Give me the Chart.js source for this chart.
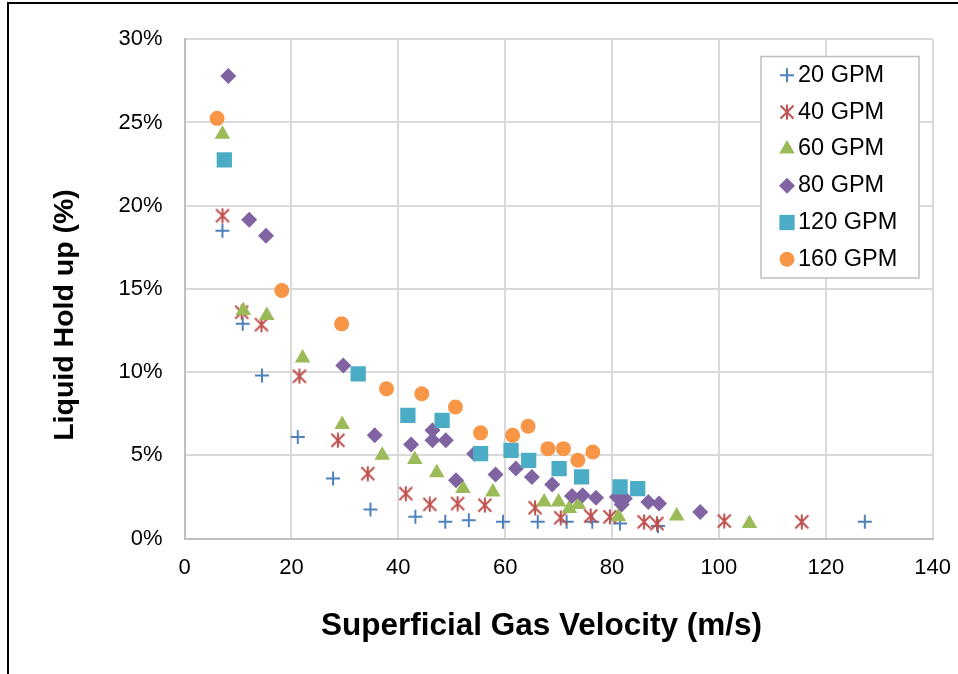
<!DOCTYPE html>
<html>
<head>
<meta charset="utf-8">
<script src="https://cdn.jsdelivr.net/npm/chart.js@4.4.0/dist/chart.umd.min.js"></script>
<style>
    html, body { margin: 0; padding: 0; background: #fff; }
    canvas { display: block; }
</style>
</head>
<body>
<canvas id="chart" width="958" height="674"></canvas>
<script>
(function () {
    "use strict";

    const SERIES = ["20 GPM", "40 GPM", "60 GPM", "80 GPM", "120 GPM", "160 GPM"];
    const COLORS = ["#4F81BD", "#C0504D", "#9BBB59", "#8064A2", "#4BACC6", "#F79646"];
    const X_TICKS = [0, 20, 40, 60, 80, 100, 120, 140];
    const Y_TICKS = [0, 5, 10, 15, 20, 25, 30];

    // superficial gas velocity (m/s) / liquid hold up (%)
    const x20 = [7.1, 10.9, 14.5, 21.2, 27.8, 34.8, 43.2, 48.8, 53.2, 59.6, 66.1, 71.5, 76.3, 81.5, 88.6, 127.3];
    const y20 = [18.5, 12.9, 9.8, 6.1, 3.6, 1.75, 1.3, 1.0, 1.1, 1.0, 1.0, 1.0, 1.0, 0.9, 0.75, 1.0];
    const x40 = [7.1, 10.7, 14.4, 21.5, 28.7, 34.3, 41.4, 45.9, 51.1, 56.2, 65.6, 70.4, 76.0, 79.6, 86.0, 88.4, 101.0, 115.5];
    const y40 = [19.4, 13.6, 12.85, 9.75, 5.9, 3.9, 2.7, 2.05, 2.1, 2.0, 1.85, 1.25, 1.35, 1.3, 1.0, 0.9, 1.05, 1.0];
    const x60 = [7.1, 11.0, 15.4, 22.1, 29.5, 37.0, 43.1, 47.2, 52.1, 57.7, 67.3, 70.0, 72.0, 73.7, 81.2, 92.1, 105.7];
    const y60 = [24.3, 13.7, 13.4, 10.85, 6.85, 5.0, 4.75, 3.95, 3.0, 2.8, 2.2, 2.2, 1.8, 2.05, 1.3, 1.35, 0.9];
    const x80 = [8.2, 12.1, 15.25, 29.7, 35.6, 42.4, 46.4, 46.4, 48.9, 50.8, 54.2, 58.2, 62.0, 65.0, 68.8, 72.5, 74.5, 77.0, 80.9, 82.4, 81.8, 86.8, 88.8, 96.5];
    const y80 = [27.8, 19.15, 18.2, 10.4, 6.2, 5.65, 6.5, 5.9, 5.9, 3.5, 5.1, 3.85, 4.2, 3.7, 3.25, 2.55, 2.6, 2.45, 2.5, 2.4, 2.05, 2.2, 2.1, 1.6];
    const x120 = [7.45, 32.5, 41.8, 48.2, 55.4, 61.1, 64.4, 70.1, 74.3, 81.5, 84.8];
    const y120 = [22.75, 9.9, 7.4, 7.1, 5.1, 5.3, 4.7, 4.2, 3.7, 3.1, 3.0];
    const x160 = [6.1, 18.2, 29.4, 37.8, 44.4, 50.7, 55.4, 61.4, 64.3, 68.0, 70.9, 73.6, 76.4];
    const y160 = [25.25, 14.9, 12.9, 9.0, 8.7, 7.9, 6.35, 6.2, 6.75, 5.4, 5.4, 4.7, 5.2];

    const XS = [x20, x40, x60, x80, x120, x160];
    const YS = [y20, y40, y60, y80, y120, y160];

    // excel style asterisk: an X with a vertical bar
    function makeStar(color) {
        const c = document.createElement("canvas");
        c.width = 16; c.height = 16;
        const g = c.getContext("2d");
        g.strokeStyle = color;
        g.lineWidth = 2;
        g.beginPath();
        g.moveTo(1.5, 1.5); g.lineTo(14.5, 14.5);
        g.moveTo(14.5, 1.5); g.lineTo(1.5, 14.5);
        g.moveTo(8, 0.5); g.lineTo(8, 15.5);
        g.stroke();
        return c;
    }

    const STYLES = ["cross", makeStar(COLORS[1]), "triangle", "rectRot", "rect", "circle"];
    const RADII = [7, 8, 9, 8, 10.8, 7.5];

    const datasets = SERIES.map((name, i) => ({
        label: name,
        data: XS[i].map((x, j) => ({ x: x, y: YS[i][j] })),
        pointStyle: STYLES[i],
        pointRadius: RADII[i],
        pointHoverRadius: RADII[i],
        backgroundColor: COLORS[i],
        borderColor: COLORS[i],
        borderWidth: i === 0 ? 2 : 0,
        showLine: false,
        order: SERIES.length - i,
    }));

    const legendBox = {
        id: "legendBox",
        afterDraw(chart) {
            const ctx = chart.ctx;
            ctx.save();
            ctx.fillStyle = "#fff";
            ctx.fillRect(761, 56.5, 158, 221.5);
            ctx.strokeStyle = "#BFBFBF";
            ctx.lineWidth = 1.5;
            ctx.strokeRect(761, 56.5, 158, 221.5);
            ctx.font = "23.5px 'Liberation Sans', Arial, sans-serif";
            ctx.textBaseline = "middle";
            ctx.textAlign = "left";
            SERIES.forEach((name, i) => {
                const y = 75.3 + i * 36.8;
                const ds = chart.data.datasets[i];
                if (typeof ds.pointStyle === "object") {
                    ctx.drawImage(ds.pointStyle, 787 - 8, y - 8);
                } else if (Chart.helpers && Chart.helpers.drawPoint) {
                    ctx.fillStyle = ds.backgroundColor;
                    ctx.strokeStyle = ds.borderColor;
                    ctx.lineWidth = ds.borderWidth;
                    Chart.helpers.drawPoint(ctx, { pointStyle: ds.pointStyle, radius: ds.pointRadius, rotation: 0, borderWidth: ds.borderWidth }, 787, y);
                }
                ctx.fillStyle = "#000";
                ctx.fillText(name, 798, y);
            });
            ctx.restore();
        },
    };

    const axisTitles = {
        id: "axisTitles",
        afterDraw(chart) {
            const ctx = chart.ctx;
            ctx.save();
            ctx.fillStyle = "#000";
            ctx.textAlign = "center";
            ctx.textBaseline = "middle";
            ctx.font = "bold 31.5px 'Liberation Sans', Arial, sans-serif";
            ctx.fillText("Superficial Gas Velocity (m/s)", 541.5, 626);
            ctx.translate(65, 315);
            ctx.rotate(-Math.PI / 2);
            ctx.font = "bold 28.5px 'Liberation Sans', Arial, sans-serif";
            ctx.fillText("Liquid Hold up (%)", 0, 0);
            ctx.restore();
            // frame edges of the original picture
            ctx.fillStyle = "#000";
            ctx.fillRect(7, 2, 951, 2);
            ctx.fillRect(7, 2, 2, 672);
        },
    };

    const tickFont = { family: "'Liberation Sans', Arial, sans-serif", size: 22 };

    new Chart(document.getElementById("chart"), {
        type: "scatter",
        data: { datasets: datasets },
        options: {
            responsive: false,
            animation: false,
            layout: { padding: { left: 0, top: 39.3, right: 25.3, bottom: 0 } },
            plugins: { legend: { display: false }, tooltip: { enabled: false } },
            scales: {
                x: {
                    type: "linear",
                    min: X_TICKS[0],
                    max: X_TICKS[X_TICKS.length - 1],
                    afterBuildTicks: (s) => { s.ticks = X_TICKS.map((v) => ({ value: v })); },
                    afterFit: (s) => { s.height = 135.5; s.paddingLeft = 0; s.paddingRight = 0; },
                    ticks: { color: "#000", font: tickFont, padding: 15.8, maxRotation: 0 },
                    grid: { color: "#D9D9D9", lineWidth: 2, drawTicks: false },
                    border: { color: "#BFBFBF", width: 2 },
                },
                y: {
                    min: Y_TICKS[0],
                    max: Y_TICKS[Y_TICKS.length - 1],
                    afterBuildTicks: (s) => { s.ticks = Y_TICKS.map((v) => ({ value: v })); },
                    afterFit: (s) => { s.width = 184.5; s.paddingTop = 0; s.paddingBottom = 0; },
                    ticks: { color: "#000", font: tickFont, padding: 22, callback: (v) => v + "%" },
                    grid: { color: "#D9D9D9", lineWidth: 2, drawTicks: false },
                    border: { color: "#BFBFBF", width: 2 },
                },
            },
        },
        plugins: [legendBox, axisTitles],
    });
})();
</script>
</body>
</html>
